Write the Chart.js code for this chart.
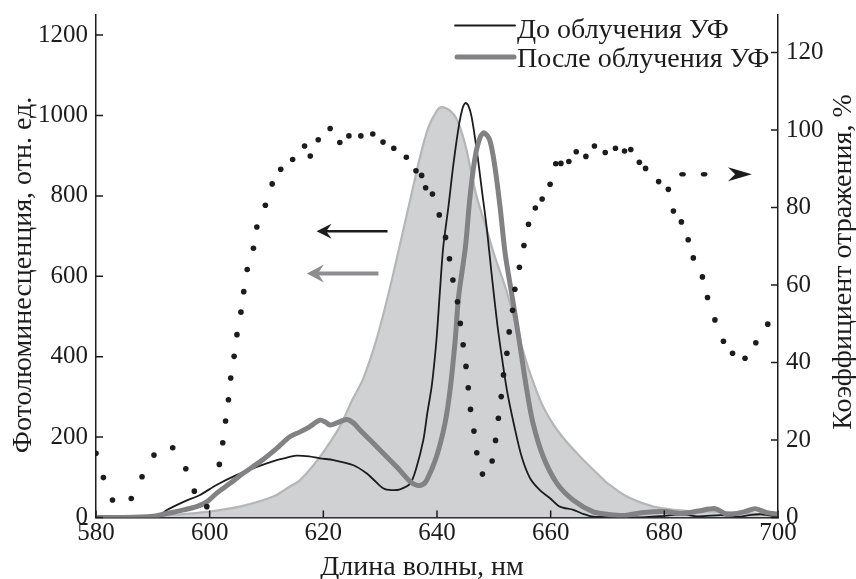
<!DOCTYPE html>
<html><head><meta charset="utf-8">
<script src="https://cdn.jsdelivr.net/npm/chart.js@4.4.1/dist/chart.umd.min.js"></script>
<style>html,body{margin:0;padding:0;background:#fff;}canvas{display:block;}</style>
</head><body>
<canvas id="c" width="856" height="579"></canvas>
<script>
// ---- tick labels ----
const xTicks = [580, 600, 620, 640, 660, 680, 700];
const yLeftTicks = [0, 200, 400, 600, 800, 1000, 1200];
const yRightTicks = [0, 20, 40, 60, 80, 100, 120];

// ---- text ----
const xTitle = 'Длина волны, нм';
const yLeftTitle = 'Фотолюминесценция, отн. ед.';
const yRightTitle = 'Коэффициент отражения, %';
const legendBefore = 'До облучения УФ';
const legendAfter = 'После облучения УФ';

// ---- series: PL before UV (thin black), left axis ----
const beforeNm = [580,585,590,591.5,592.4,595.4,598.3,601.2,604.8,608.3,611.8,613.9,615.3,617.5,619.4,621.8,625.3,627.6,629,630.6,632,633.5,635.3,636.3,637.6,638.3,639.1,639.9,640.5,641.1,642,642.9,643.9,644.5,645,645.5,646.1,647,647.9,648.8,649.6,650.6,651.4,652.3,653.5,654.9,656.4,658.1,659.9,661.6,664,665.5,667.5,670,675,680,683,686,690,693,695,697,700];
const beforeVal = [0,1,2,8,18,39,56,81,106,126,143,150,154,152,147,143,130,110,92,72,68,70,85,120,193,260,330,441,560,673,772,880,979,1018,1031,1025,996,913,814,714,607,482,400,317,234,151,97,68,48,27,19,10,2,3,0,4,8,3,6,2,6,8,2];

// ---- series: PL after UV (thick grey), left axis ----
const afterNm = [580,585,590,591.8,595.4,597.7,599.5,601.2,603.6,605.9,608.9,611.8,614.1,615.9,617.5,619.4,620.3,621.2,622.5,624.1,625.3,626.5,629.4,632.9,635.3,636.5,637.5,638.2,639.9,641.4,642.3,643.2,643.8,645,645.8,646.7,647.6,648.3,649.3,650.2,651.1,652,653.1,654,654.9,655.8,656.9,658.7,661.1,664,667.5,670,673,676,680,683,686,689,691,694,696,698,700];
const afterVal = [0,0,3,8,19,27,39,60,85,110,139,172,201,213,225,242,238,230,236,244,235,217,176,126,89,80,82,93,151,234,317,441,549,673,797,896,946,957,938,871,772,656,560,482,400,317,234,151,85,43,14,8,5,12,15,10,16,22,8,14,22,12,8];

// ---- series: filled grey spectrum, left axis ----
const fillNm = [580,590,595,599.5,605.3,611.2,614.1,615.9,619.4,622.9,625,627,629.4,631.7,633.5,635.6,637,638.5,640,640.8,642.3,643.5,644.3,645.2,646,647,648.8,650.2,652.2,654.6,656.4,658.7,661.6,665.2,668.5,670,673.4,678.1,681.6,685,690,695.7,700];
const fillVal = [2,4,8,14,27,52,77,93,151,226,290,345,445,570,680,810,896,971,1012,1021,1012,990,960,915,860,797,714,648,565,441,358,275,209,151,105,85,52,27,19,16,14,10,8];

// ---- series: reflectance (dotted), right axis ----
const reflNm = [580.0,581.3,582.9,586.2,588.1,590.2,593.5,595.8,597.3,599.5,601.7,602.3,602.8,603.3,603.7,604.3,604.8,605.5,606.0,606.6,607.7,608.3,609.8,611.0,612.5,614.6,616.7,617.7,619.1,621.2,622.9,624.5,626.6,628.7,630.5,632.4,634.6,636.3,637.3,638.0,639.2,640.4,641.5,642.2,642.8,643.6,644.1,644.6,645.1,645.5,645.9,646.5,647.0,648.0,649.7,650.3,650.8,651.3,651.7,652.3,652.7,653.3,653.7,654.5,655.3,656.1,657.3,658.5,659.9,660.9,661.8,663.2,664.5,666.2,667.7,669.6,671.4,673.0,674.1,675.6,676.7,679.0,680.7,681.6,683.0,684.2,685.1,686.7,687.6,688.9,690.4,692.0,694.2,696.1,698.2];
const reflVal = [16.6,10.3,4.5,4.9,10.5,16.1,18.0,12.6,6.8,2.8,13.7,19.3,24.9,30.4,36.0,41.6,47.2,53.0,58.3,64.0,69.5,75.0,80.6,86.1,89.9,92.4,95.9,93.3,97.5,100.4,96.8,98.5,98.5,99.0,96.9,95.3,93.0,89.5,88.3,85.1,83.5,78.1,72.3,66.8,61.3,55.7,50.1,44.6,39.0,33.5,27.9,22.3,16.7,11.2,14.6,19.9,25.6,31.2,36.8,42.4,47.9,53.5,58.9,64.6,70.2,75.7,79.9,82.2,86.0,91.3,91.4,91.9,94.4,93.2,95.9,94.2,95.3,94.6,95.0,91.7,90.1,86.7,84.7,79.1,76.3,71.7,67.0,62.1,56.8,51.0,45.5,42.4,41.1,45.1,49.9];

// ---- annotation arrows (data coordinates) ----
const arrowBlack = {from: 631.3, to: 618.8, value: 712};   // left axis
const arrowGrey  = {from: 629.7, to: 617.1, value: 607};   // left axis
const arrowDots  = {dots: [683.2, 687.0], base: 691.2, tip: 695.4, value: 88.6}; // right axis

const FONT = '"Liberation Serif", "DejaVu Serif", serif';
const INK = '#1c1c1c';
const GREY_LINE = '#828284';
const FILL_BG = '#d0d1d3';
const FILL_EDGE = '#b5b6b8';

const pairs = (xs, ys) => xs.map((x, i) => ({x, y: ys[i]}));

function drawArrow(ctx, x1, y, x2, color, lw, headLen, headHalf) {
  const dir = Math.sign(x2 - x1);
  ctx.save();
  ctx.strokeStyle = color; ctx.fillStyle = color; ctx.lineWidth = lw; ctx.lineCap = 'butt';
  ctx.beginPath(); ctx.moveTo(x1, y); ctx.lineTo(x2 - dir * headLen * 0.6, y); ctx.stroke();
  ctx.beginPath();
  ctx.moveTo(x2, y);
  ctx.lineTo(x2 - dir * headLen, y - headHalf);
  ctx.lineTo(x2 - dir * headLen * 0.65, y);
  ctx.lineTo(x2 - dir * headLen, y + headHalf);
  ctx.closePath(); ctx.fill();
  ctx.restore();
}

const decor = {
  id: 'decor',
  afterDraw(chart) {
    const ctx = chart.ctx;
    const {left, right, top, bottom} = chart.chartArea;
    const sx = chart.scales.x, sy = chart.scales.y, sr = chart.scales.y2;
    ctx.save();
    // inward tick marks
    ctx.strokeStyle = INK; ctx.lineWidth = 1.5;
    const TL = 7;
    ctx.beginPath();
    xTicks.forEach(v => { const p = sx.getPixelForValue(v); ctx.moveTo(p, bottom); ctx.lineTo(p, bottom - TL); });
    yLeftTicks.forEach(v => { const p = sy.getPixelForValue(v); ctx.moveTo(left, p); ctx.lineTo(left + TL, p); });
    yRightTicks.forEach(v => { const p = sr.getPixelForValue(v); ctx.moveTo(right, p); ctx.lineTo(right - TL, p); });
    ctx.stroke();

    // axis titles
    ctx.fillStyle = INK;
    ctx.font = '28px ' + FONT;
    ctx.textAlign = 'center'; ctx.textBaseline = 'alphabetic';
    ctx.fillText(xTitle, 422, 575);
    ctx.save(); ctx.translate(31, 275); ctx.rotate(-Math.PI / 2); ctx.fillText(yLeftTitle, 0, 0); ctx.restore();
    ctx.save(); ctx.translate(851, 262); ctx.rotate(-Math.PI / 2); ctx.fillText(yRightTitle, 0, 0); ctx.restore();

    // legend
    ctx.textAlign = 'left';
    ctx.lineCap = 'round';
    ctx.strokeStyle = INK; ctx.lineWidth = 1.8;
    ctx.beginPath(); ctx.moveTo(455, 25.5); ctx.lineTo(515, 25.5); ctx.stroke();
    ctx.strokeStyle = GREY_LINE; ctx.lineWidth = 5;
    ctx.beginPath(); ctx.moveTo(457, 57); ctx.lineTo(514, 57); ctx.stroke();
    ctx.fillText(legendBefore, 517, 37.5);
    ctx.fillText(legendAfter, 517, 67);

    // arrows
    drawArrow(ctx, sx.getPixelForValue(arrowBlack.from), sy.getPixelForValue(arrowBlack.value), sx.getPixelForValue(arrowBlack.to), INK, 2.4, 15, 7.5);
    drawArrow(ctx, sx.getPixelForValue(arrowGrey.from), sy.getPixelForValue(arrowGrey.value), sx.getPixelForValue(arrowGrey.to), '#8e8e90', 4, 17, 9);
    const yd = sr.getPixelForValue(arrowDots.value);
    ctx.fillStyle = INK;
    arrowDots.dots.forEach(v => { ctx.beginPath(); ctx.ellipse(sx.getPixelForValue(v), yd, 3.3, 2.3, 0, 0, Math.PI * 2); ctx.fill(); });
    const xb = sx.getPixelForValue(arrowDots.base), xt = sx.getPixelForValue(arrowDots.tip);
    ctx.beginPath();
    ctx.moveTo(xt, yd); ctx.lineTo(xb, yd - 7); ctx.lineTo(xb + (xt - xb) * 0.3, yd); ctx.lineTo(xb, yd + 7); ctx.closePath(); ctx.fill();
    ctx.restore();
  }
};

const tickFont = {family: FONT, size: 25};
const plain = v => String(v);
const fitY = w => s => { s.width = w; s.paddingTop = 0; s.paddingBottom = 0; };

new Chart(document.getElementById('c'), {
  type: 'line',
  data: {
    datasets: [
      {label: 'refl', data: pairs(reflNm, reflVal), yAxisID: 'y2', showLine: false,
       pointRadius: 2.8, pointBackgroundColor: INK, pointBorderWidth: 0, order: 0},
      {label: legendAfter, data: pairs(afterNm, afterVal), yAxisID: 'y', borderColor: GREY_LINE,
       borderWidth: 5, pointRadius: 0, tension: 0.3, borderJoinStyle: 'round', borderCapStyle: 'round', order: 1},
      {label: legendBefore, data: pairs(beforeNm, beforeVal), yAxisID: 'y', borderColor: INK,
       borderWidth: 1.8, pointRadius: 0, tension: 0.3, order: 2},
      {label: 'fill', data: pairs(fillNm, fillVal), yAxisID: 'y', borderColor: FILL_EDGE, backgroundColor: FILL_BG,
       fill: 'origin', borderWidth: 2.2, pointRadius: 0, tension: 0.3, order: 3}
    ]
  },
  options: {
    responsive: false,
    animation: false,
    events: [],
    layout: {padding: {top: 15, left: 0, right: 0, bottom: 0}},
    plugins: {legend: {display: false}, tooltip: {enabled: false}},
    scales: {
      x: {
        type: 'linear', min: 580, max: 700,
        afterBuildTicks: s => { s.ticks = xTicks.map(v => ({value: v})); },
        afterFit: s => { s.height = 61.5; s.paddingLeft = 0; s.paddingRight = 0; },
        ticks: {font: tickFont, color: INK, padding: 1, maxRotation: 0, autoSkip: false, callback: plain},
        grid: {display: false, drawTicks: false},
        border: {display: true, color: INK, width: 1.5}
      },
      y: {
        type: 'linear', position: 'left', min: 0, max: 1250,
        afterBuildTicks: s => { s.ticks = yLeftTicks.map(v => ({value: v})); },
        afterFit: fitY(96),
        ticks: {font: tickFont, color: INK, padding: 8, autoSkip: false, callback: plain},
        grid: {display: false, drawTicks: false},
        border: {display: true, color: INK, width: 1.5}
      },
      y2: {
        type: 'linear', position: 'right', min: 0, max: 129.7,
        afterBuildTicks: s => { s.ticks = yRightTicks.map(v => ({value: v})); },
        afterFit: fitY(78),
        ticks: {font: tickFont, color: INK, padding: 8, autoSkip: false, callback: plain},
        grid: {display: false, drawTicks: false},
        border: {display: true, color: INK, width: 1.5}
      }
    }
  },
  plugins: [decor]
});
</script>
</body></html>
